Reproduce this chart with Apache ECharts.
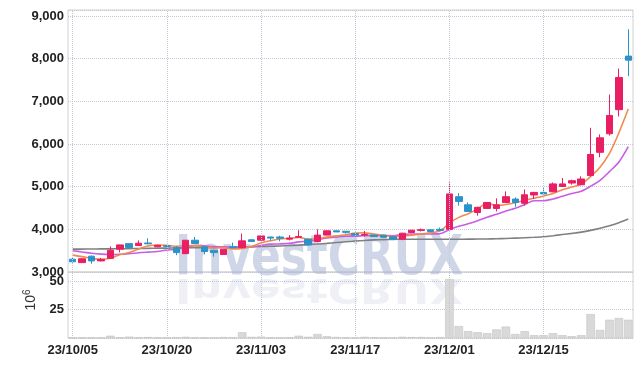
<!DOCTYPE html>
<html><head><meta charset="utf-8">
<script src="https://cdn.jsdelivr.net/npm/echarts@6/dist/echarts.min.js"></script>
<style>html,body{margin:0;padding:0;background:#fff}#c{width:642px;height:367px}</style>
</head><body><div id="c"></div>
<script>
const dates = ['23/10/05','23/10/06','23/10/10','23/10/11','23/10/12','23/10/13','23/10/16','23/10/17','23/10/18','23/10/19',
'23/10/20','23/10/23','23/10/24','23/10/25','23/10/26','23/10/27','23/10/30','23/10/31','23/11/01','23/11/02',
'23/11/03','23/11/06','23/11/07','23/11/08','23/11/09','23/11/10','23/11/13','23/11/14','23/11/15','23/11/16',
'23/11/17','23/11/20','23/11/21','23/11/22','23/11/23','23/11/24','23/11/27','23/11/28','23/11/29','23/11/30',
'23/12/01','23/12/04','23/12/05','23/12/06','23/12/07','23/12/08','23/12/11','23/12/12','23/12/13','23/12/14',
'23/12/15','23/12/18','23/12/19','23/12/20','23/12/21','23/12/22','23/12/26','23/12/27','23/12/28','23/12/29'];
const opens = [3300,3220,3370,3260,3320,3535,3665,3620,3680,3590, 3615,3570,3430,3745,3590,3510,3410,3590,3570,3755,
3745,3820,3820,3770,3815,3770,3715,3865,3965,3955, 3900,3865,3865,3860,3825,3770,3925,3975,3990,4000,
4000,4765,4575,4395,4490,4490,4630,4710,4610,4805, 4865,4880,5005,5085,5045,5260,5805,6240,6805,8060];
const closes = [3240,3310,3260,3295,3510,3635,3575,3675,3660,3625, 3600,3455,3745,3665,3480,3455,3535,3570,3730,3715,
3845,3795,3790,3795,3830,3635,3865,3965,3940,3930, 3865,3880,3830,3815,3770,3910,3980,3990,3950,3975,
4830,4655,4420,4515,4630,4575,4765,4630,4810,4865, 4830,5065,5065,5140,5180,5755,6145,6670,7560,7965];
const lows = [3220,3210,3195,3250,3310,3460,3570,3615,3650,3580, 3590,3395,3425,3660,3415,3360,3400,3560,3560,3705,
3740,3730,3720,3740,3800,3630,3700,3860,3935,3900, 3855,3830,3825,3810,3755,3745,3920,3950,3945,3960,
3990,4555,4415,4320,4480,4420,4620,4530,4555,4710, 4820,4870,4990,5045,5040,5240,5690,6200,6645,7590];
const highs = [3330,3320,3390,3330,3600,3640,3670,3740,3790,3640, 3630,3610,3750,3820,3600,3520,3540,3690,3900,3770,
3850,3825,3850,3865,3980,3790,4000,3970,3970,3960, 3910,3960,3870,3870,3830,3915,3985,4020,3995,4040,
5100,4850,4630,4530,4640,4725,4890,4750,4935,4880, 4970,5100,5205,5165,5245,6380,6225,7160,7770,8690];
const ma5 = [3395,3360,3320,3300,3323,3402,3455,3538,3611,3634, 3627,3603,3617,3618,3589,3560,3576,3541,3554,3601,
3679,3731,3775,3788,3811,3769,3783,3818,3847,3867, 3913,3916,3889,3864,3832,3841,3861,3893,3920,3961,
4145,4280,4366,4479,4610,4559,4581,4623,4682,4729, 4780,4840,4927,4993,5056,5241,5457,5778,6262,6819];
const ma10 = [3500,3470,3440,3420,3410,3415,3430,3450,3465,3479, 3515,3529,3578,3615,3612,3594,3590,3579,3586,3595,
3620,3654,3658,3671,3706,3724,3757,3797,3818,3839, 3841,3850,3854,3856,3850,3877,3889,3891,3892,3897,
3993,4071,4130,4200,4286,4352,4431,4495,4581,4670, 4670,4711,4775,4838,4893,5011,5149,5353,5578,5938];
const ma60 = [3535,3537,3539,3541,3543,3545,3548,3551,3554,3557, 3560,3563,3566,3569,3572,3575,3578,3582,3586,3590,
3596,3603,3611,3620,3630,3642,3656,3672,3690,3708, 3725,3740,3752,3760,3765,3768,3769,3769,3768,3767,
3767,3768,3770,3772,3775,3780,3786,3794,3803,3813, 3825,3850,3878,3905,3935,3975,4025,4085,4155,4240];
const volumes = [0.3,0.2,0.3,0.2,2.0,0.5,1.2,0.6,0.8,0.5, 0.3,0.7,1.0,0.4,0.3,0.4,0.8,0.6,5.0,1.0,
1.2,0.5,0.4,0.6,2.0,1.0,3.5,1.5,0.9,0.6, 0.4,1.0,0.7,0.3,0.4,1.0,0.8,0.8,0.4,0.8,
51.8,10.5,6,5,4.2,7.5,10,3.5,6,2.5, 2.5,4.2,2.5,1.6,2.5,21,7,16,17.5,16];
const gridDates = ['23/10/05','23/10/20','23/11/03','23/11/17','23/12/01','23/12/15'];

const UP = '#e91e63', DOWN = '#2a93c9';
const FONT = '"Liberation Sans",Arial,sans-serif';
const WFONT = '"DejaVu Sans Condensed","DejaVu Sans",sans-serif';
const dotted = {type:'dotted', color:'#c3c7d6', width:1};
const candleData = opens.map((o,i)=>[o, closes[i], lows[i], highs[i]]);
const vLines = gridDates.map(d=>({xAxis:d}));

const chart = echarts.init(document.getElementById('c'), null, {renderer:'canvas'});
chart.setOption({
  animation:false,
  backgroundColor:'#fff',
  grid:[
    {left:68, right:9, top:10, height:262, show:true, borderColor:'#d0d0d0', borderWidth:1},
    {left:68, right:9, top:272, height:66, show:true, borderColor:'#d0d0d0', borderWidth:1}
  ],
  xAxis:[
    {type:'category', gridIndex:0, data:dates, boundaryGap:true, axisLine:{show:false}, axisTick:{show:false}, axisLabel:{show:false}, splitLine:{show:false}},
    {type:'category', gridIndex:1, data:dates, boundaryGap:true, axisLine:{show:false}, axisTick:{show:false},
     axisLabel:{interval:9, margin:6, fontFamily:FONT, fontSize:13, fontWeight:'bold', color:'#222'}, splitLine:{show:false}}
  ],
  yAxis:[
    {type:'value', gridIndex:0, min:3000, max:9141, interval:1000, axisLine:{show:false}, axisTick:{show:false},
     axisLabel:{margin:4, fontFamily:FONT, fontSize:13, fontWeight:'bold', color:'#222', showMaxLabel:false,
       formatter:v=>v.toLocaleString('en-US')}, splitLine:{show:true, lineStyle:dotted}},
    {type:'value', gridIndex:1, min:0, max:58, interval:25, axisLine:{show:false}, axisTick:{show:false},
     axisLabel:{margin:4, fontFamily:FONT, fontSize:13, fontWeight:'bold', color:'#222', showMinLabel:false, showMaxLabel:false},
     splitLine:{show:true, lineStyle:dotted}}
  ],
  graphic:[
    {type:'text', x:319, y:259, scaleX:0.87, z:1, silent:true,
     style:{text:'InvestCRUX', font:'bold 56px '+WFONT, fill:'rgba(168,180,212,0.55)', align:'center', verticalAlign:'middle'}},
    {type:'text', x:319, y:277, scaleX:0.87, scaleY:-0.6, z:1, silent:true,
     style:{x:0, y:-18, text:'InvestCRUX', font:'bold 56px '+WFONT, align:'center', verticalAlign:'middle',
       fill:'rgba(168,180,212,0.2)'}},
    {type:'text', x:31, y:300, rotation:Math.PI/2, z:5, silent:true,
     style:{text:'{a|10}{b|6}', align:'center', verticalAlign:'middle',
       rich:{a:{fontFamily:FONT, fontSize:14, fill:'#333', lineHeight:18}, b:{fontFamily:FONT, fontSize:10, fill:'#333', verticalAlign:'top'}}}}
  ],
  series:[
    {type:'line', xAxisIndex:0, yAxisIndex:0, data:[], z:1, silent:true,
     markLine:{silent:true, symbol:['none','none'], label:{show:false}, lineStyle:dotted, data:vLines, animation:false}},
    {type:'line', xAxisIndex:1, yAxisIndex:1, data:[], z:1, silent:true,
     markLine:{silent:true, symbol:['none','none'], label:{show:false}, lineStyle:dotted, data:vLines, animation:false}},
    {type:'bar', xAxisIndex:1, yAxisIndex:1, data:volumes, barWidth:'90%', z:2,
     itemStyle:{color:'#d9d9d9', borderColor:'#c2c2c2', borderWidth:0.6}},
    {type:'line', name:'MA60', xAxisIndex:0, yAxisIndex:0, data:ma60, symbol:'none', smooth:0.3, z:3,
     lineStyle:{color:'#808080', width:1.6}},
    {type:'line', name:'MA10', xAxisIndex:0, yAxisIndex:0, data:ma10, symbol:'none', smooth:0.3, z:3,
     lineStyle:{color:'#c95ee6', width:1.6}},
    {type:'line', name:'MA5', xAxisIndex:0, yAxisIndex:0, data:ma5, symbol:'none', smooth:0.3, z:3,
     lineStyle:{color:'#f08a4e', width:1.6}},
    {type:'candlestick', xAxisIndex:0, yAxisIndex:0, data:candleData, barWidth:7, z:4,
     itemStyle:{color:UP, color0:DOWN, borderColor:UP, borderColor0:DOWN, borderWidth:1}}
  ]
});
</script></body></html>
